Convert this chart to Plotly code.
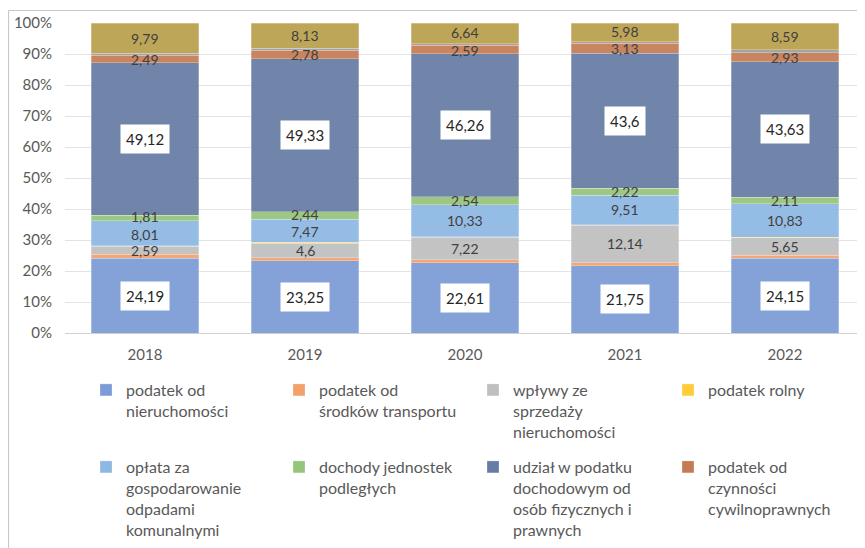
import plotly.graph_objects as go

years = ['2018', '2019', '2020', '2021', '2022']

nieruchomosci = [24.19, 23.25, 22.61, 21.75, 24.15]
transport = [1.2, 1.1, 1.0, 0.9, 0.9]
sprzedaz = [2.59, 4.6, 7.22, 12.14, 5.65]
rolny = [0.2, 0.3, 0.2, 0.2, 0.2]
oplata = [8.01, 7.47, 10.33, 9.51, 10.83]
jednostki = [1.81, 2.44, 2.54, 2.22, 2.11]
udzial = [49.12, 49.33, 46.26, 43.6, 43.63]
czynnosci = [2.49, 2.78, 2.59, 3.13, 2.93]
inne = [0.6, 0.6, 0.61, 0.57, 1.01]
pozostale = [9.79, 8.13, 6.64, 5.98, 8.59]

y_ticks = [0, 10, 20, 30, 40, 50, 60, 70, 80, 90, 100]
y_tick_labels = ['0%', '10%', '20%', '30%', '40%', '50%', '60%', '70%', '80%', '90%', '100%']

# (name, values, colour, label mode, legend id)
series = [
    ('podatek od<br>nieruchomości', nieruchomosci, '#7b9cd6', 'box', 'legend'),
    ('podatek od<br>środków transportu', transport, '#f3a06c', None, 'legend2'),
    ('wpływy ze<br>sprzedaży<br>nieruchomości', sprzedaz, '#bfbfbf', 'plain', 'legend3'),
    ('podatek rolny', rolny, '#ffcd3c', None, 'legend4'),
    ('opłata za<br>gospodarowanie<br>odpadami<br>komunalnymi', oplata, '#8cb8e4', 'plain', 'legend5'),
    ('dochody jednostek<br>podległych', jednostki, '#96c47a', 'plain', 'legend6'),
    ('udział w podatku<br>dochodowym od<br>osób fizycznych i<br>prawnych', udzial, '#677ca5', 'box', 'legend7'),
    ('podatek od<br>czynności<br>cywilnoprawnych', czynnosci, '#c47c55', 'plain', 'legend8'),
    ('pozostałe podatki', inne, '#9e9e9e', None, None),
    ('pozostałe dochody', pozostale, '#baa04c', 'plain', None),
]

FONT = 'Lato'
TXT = '#595959'

# The page body adds an 8 px margin; the figure is sized/positioned to compensate.
OFF = 8
W, H = 865 - OFF, 548 - OFF
L, R, T, B = 65 - OFF, 0, 23 - OFF, 548 - 333
pw, ph = W - L - R, H - T - B
PX_PER_PCT = ph / 100.0


def px_x(x):
    return (x - OFF - L) / pw


def px_y(y):
    return (H - B - (y - OFF)) / ph


fig = go.Figure()
annotations = []
plain_by_year = {i: [] for i in range(len(years))}
base = [0.0] * len(years)
for name, vals, col, mode, leg in series:
    kw = dict(legend=leg) if leg else dict(showlegend=False)
    fig.add_trace(go.Bar(
        x=years, y=vals, name=name,
        marker=dict(color=col, opacity=0.93,
                    line=dict(color='rgba(255,255,255,0.45)', width=0.6)),
        hoverinfo='skip', **kw))
    if mode:
        for i, v in enumerate(vals):
            lab = str(v).replace('.', ',')
            ann = dict(x=i, y=base[i] + v / 2, xref='x', yref='y',
                       text=lab, showarrow=False, yshift=0)
            if mode == 'box':
                ann.update(bgcolor='#ffffff', borderpad=5,
                           font=dict(family=FONT, size=15, color='#262626'))
            else:
                ann.update(font=dict(family=FONT, size=14, color='#404040'))
                plain_by_year[i].append(ann)
            annotations.append(ann)
    base = [b + v for b, v in zip(base, vals)]

# nudge neighbouring small-segment labels apart so they do not collide
MIN_GAP = 17.5
for i, anns in plain_by_year.items():
    anns.sort(key=lambda a: a['y'])
    for lo, hi in zip(anns[:-1], anns[1:]):
        gap = (hi['y'] - lo['y']) * PX_PER_PCT + hi['yshift'] - lo['yshift']
        if gap < MIN_GAP:
            d = (MIN_GAP - gap) / 2
            lo['yshift'] -= d
            hi['yshift'] += d

leg_cols = [86, 279, 473, 668]
leg_rows = [373, 450]
legend_ids = ['legend', 'legend2', 'legend3', 'legend4',
              'legend5', 'legend6', 'legend7', 'legend8']
layout_legends = {}
for k, lid in enumerate(legend_ids):
    r, c = divmod(k, 4)
    layout_legends[lid] = dict(
        x=px_x(leg_cols[c]), y=px_y(leg_rows[r]), xanchor='left', yanchor='top',
        orientation='v', valign='top', itemwidth=30, bgcolor='rgba(0,0,0,0)',
        borderwidth=0, font=dict(family=FONT, size=16, color=TXT))

shapes = [
    dict(type='line', xref='paper', yref='paper', x0=px_x(8.5), x1=px_x(866),
         y0=px_y(10.5), y1=px_y(10.5), line=dict(color='#c8c8c8', width=1.2)),
    dict(type='line', xref='paper', yref='paper', x0=px_x(8.5), x1=px_x(8.5),
         y0=px_y(10.5), y1=px_y(548), line=dict(color='#c8c8c8', width=1.2)),
]

fig.update_layout(
    width=W, height=H,
    margin=dict(l=L, r=R, t=T, b=B),
    barmode='stack', bargap=0.33,
    plot_bgcolor='white', paper_bgcolor='white',
    font=dict(family=FONT, color=TXT),
    annotations=annotations, shapes=shapes,
    xaxis=dict(type='category', showgrid=False, showline=True, linecolor='#d0d0d0',
               tickfont=dict(family=FONT, size=15, color=TXT), ticks='',
               ticklabelstandoff=8, range=[-0.5, 4.5]),
    yaxis=dict(range=[0, 100], tickmode='array', tickvals=y_ticks, ticktext=y_tick_labels,
               showgrid=True, gridcolor='#e3e3e3', gridwidth=1, zeroline=False,
               tickfont=dict(family=FONT, size=15, color=TXT), ticklabelstandoff=12),
    **layout_legends,
)

fig.write_html('out.html')
